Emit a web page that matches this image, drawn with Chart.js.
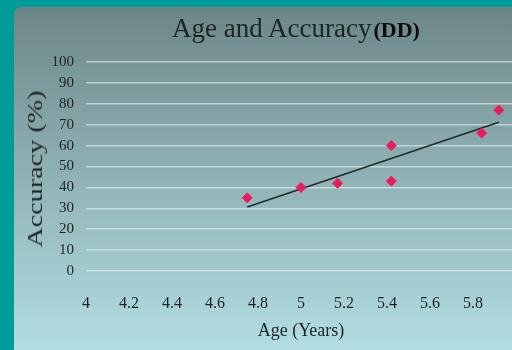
<!DOCTYPE html>
<html>
<head>
<meta charset="utf-8">
<script src="https://cdn.jsdelivr.net/npm/chart.js@4.4.1/dist/chart.umd.min.js"></script>
<style>
  html, body { margin: 0; padding: 0; width: 512px; height: 350px; overflow: hidden; background: #009c9a; }
  #panel {
    position: absolute; left: 14px; top: 7px; width: 540px; height: 360px;
    border-radius: 7px;
    background: linear-gradient(to bottom, #6c8688 0%, #8fb0b3 45%, #b5e2e7 100%);
  }
  #title {
    position: absolute; left: 40px; width: 512px; top: 15px;
    text-align: center; font-family: "Liberation Serif", serif; color: #1c2424;
    white-space: nowrap; line-height: 1;
  }
  #title .main { font-size: 27px; }
  #title .dd { font-size: 22px; font-weight: bold; color: #0c0c0c; margin-left: 2px; }
  #ytitle {
    position: absolute; left: 35px; top: 169px;
    font-family: "Liberation Serif", serif; font-size: 22px; color: #1c2424;
    white-space: nowrap; line-height: 1;
    transform: translate(-50%, -50%) rotate(-90deg) scaleX(1.28);
  }
  #wrap { position: absolute; left: 14px; top: 7px; width: 540px; height: 343px; }
</style>
</head>
<body>
<div id="panel"></div>
<div id="wrap"><canvas id="chart"></canvas></div>
<div id="title"><span class="main">Age and Accuracy</span><span class="dd">(DD)</span></div>
<div id="ytitle">Accuracy (%)</div>
<script>
const ages = [4.75, 5.0, 5.17, 5.42, 5.42, 5.84, 5.92];
const accuracy = [35, 40, 42, 60, 43, 66, 77];
const trendAges = [4.75, 5.92];
const trendAccuracy = [30.6, 71.2];

const xTicks = [4, 4.2, 4.4, 4.6, 4.8, 5, 5.2, 5.4, 5.6, 5.8, 6];

const textColor = '#1c2424';
const serif = '"Liberation Serif", "Times New Roman", serif';

const ctx = document.getElementById('chart').getContext('2d');

const chart = new Chart(ctx, {
  type: 'scatter',
  data: {
    datasets: [{
      label: 'Accuracy',
      data: ages.map((a, i) => ({ x: a, y: accuracy[i] })),
      pointStyle: 'rectRot',
      pointRadius: 5,
      pointBackgroundColor: '#ec1a5e',
      pointBorderColor: '#ec1a5e',
      showLine: false
    }, {
      label: 'Trend',
      data: trendAges.map((a, i) => ({ x: a, y: trendAccuracy[i] })),
      showLine: true,
      borderColor: '#1f2b2b',
      borderWidth: 1.5,
      pointRadius: 0
    }]
  },
  options: {
    responsive: true,
    maintainAspectRatio: false,
    animation: false,
    layout: { padding: { top: 55, right: 38, left: 0, bottom: 0 } },
    plugins: {
      legend: { display: false },
      tooltip: { enabled: false },
      title: { display: false }
    },
    scales: {
      x: {
        type: 'linear',
        min: 4,
        max: 6,
        afterBuildTicks: scale => { scale.ticks = xTicks.map(v => ({ value: v })); },
        afterFit: scale => { scale.height = 79; },
        grid: { display: false, drawTicks: false },
        border: { display: false },
        ticks: {
          padding: 23,
          color: textColor,
          font: { family: serif, size: 16 },
          maxRotation: 0,
          autoSkip: false,
          callback: v => String(v)
        },
        title: {
          display: true,
          text: 'Age (Years)',
          color: textColor,
          font: { family: serif, size: 18 },
          padding: { top: 2, bottom: 8 }
        }
      },
      y: {
        min: 0,
        max: 100,
        afterFit: scale => { scale.width = 72; },
        grid: { color: 'rgba(235,250,250,0.55)', lineWidth: 1.5, drawTicks: false },
        border: { display: false },
        ticks: {
          stepSize: 10,
          autoSkip: false,
          padding: 12,
          color: textColor,
          font: { family: serif, size: 15 }
        }
      }
    }
  }
});
</script>
</body>
</html>
